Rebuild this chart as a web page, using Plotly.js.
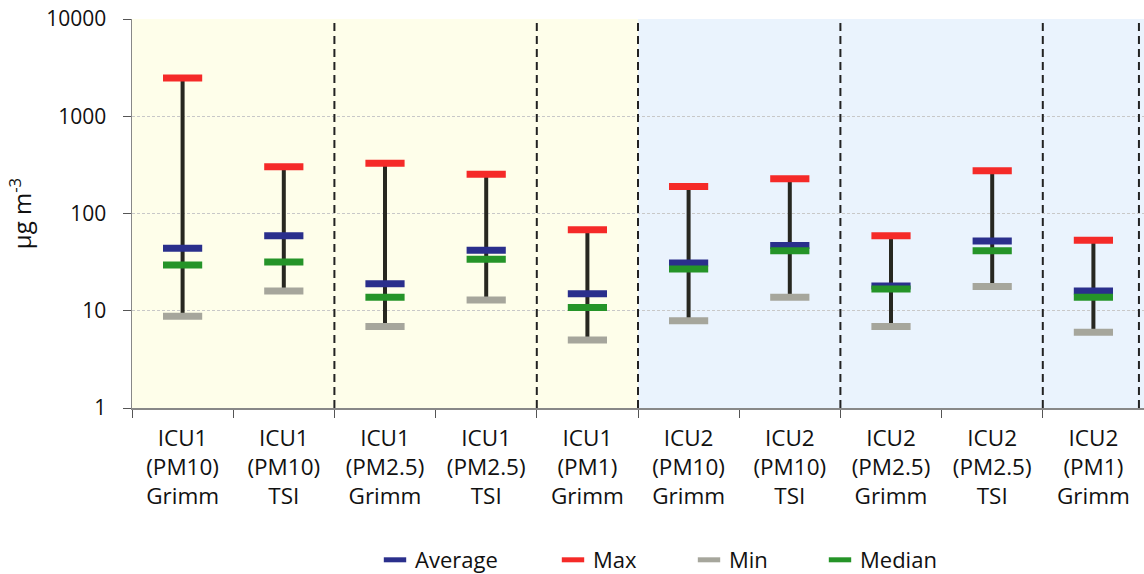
<!DOCTYPE html>
<html>
<head>
<meta charset="utf-8">
<script src="https://cdn.plot.ly/plotly-3.0.1.min.js"></script>
<style>html,body{margin:0;padding:0;background:#fff;}#chart{width:1144px;height:574px;}</style>
</head>
<body>
<div id="chart"></div>
<script>
const categories = [
  'ICU1<br>(PM10)<br>Grimm', 'ICU1<br>(PM10)<br>TSI', 'ICU1<br>(PM2.5)<br>Grimm', 'ICU1<br>(PM2.5)<br>TSI', 'ICU1<br>(PM1)<br>Grimm',
  'ICU2<br>(PM10)<br>Grimm', 'ICU2<br>(PM10)<br>TSI', 'ICU2<br>(PM2.5)<br>Grimm', 'ICU2<br>(PM2.5)<br>TSI', 'ICU2<br>(PM1)<br>Grimm'
];
const averageValues = [44, 59, 19, 42, 15, 31, 47, 18, 52, 16];
const maxValues     = [2470, 303, 328, 253, 68, 189, 228, 59, 275, 53];
const minValues     = [8.8, 16, 6.9, 12.9, 5, 7.9, 13.8, 6.9, 17.8, 6];
const medianValues  = [29.5, 31.7, 13.8, 33.8, 10.8, 26.9, 41.5, 16.7, 41.5, 13.8];
const yTickValues = [1, 10, 100, 1000, 10000];
const yTickLabels = ['1', '10', '100', '1000', '10000'];

const FONT = '"Open Sans", "DejaVu Sans", sans-serif';

// whisker lines from min to max
const wx = [], wy = [];
categories.forEach((c, i) => { wx.push(c, c, null); wy.push(minValues[i], maxValues[i], null); });

function markerTrace(name, vals, color, legendId) {
  return {
    type: 'scatter', mode: 'markers', name: name, x: categories, y: vals,
    legend: legendId, hoverinfo: 'name+y',
    marker: { symbol: 'line-ew', size: 28, color: color, line: { color: color, width: 7 } }
  };
}

const traces = [
  { type: 'scatter', mode: 'lines', x: wx, y: wy, showlegend: false, hoverinfo: 'skip',
    line: { color: '#272720', width: 4 } },
  markerTrace('Average', averageValues, '#2A2F8C', 'legend'),
  markerTrace('Max', maxValues, '#F52A28', 'legend2'),
  markerTrace('Min', minValues, '#A6A69C', 'legend3'),
  markerTrace('Median', medianValues, '#259428', 'legend4')
];

function vdash(x) {
  return { type: 'line', xref: 'x', yref: 'paper', x0: x, x1: x, y0: 0, y1: 1,
    line: { color: '#222222', width: 2, dash: '8px,5px' }, layer: 'above' };
}

function legendAt(px) {
  return { x: px / 1144, xref: 'container', xanchor: 'left', y: 1 - 560 / 574, yref: 'container', yanchor: 'middle',
    orientation: 'h', font: { family: FONT, size: 22, color: '#111' }, bgcolor: 'rgba(0,0,0,0)', borderwidth: 0 };
}

const layout = {
  width: 1144, height: 574,
  margin: { l: 132, r: 0, t: 19, b: 166 },
  paper_bgcolor: '#ffffff', plot_bgcolor: '#ffffff',
  font: { family: FONT, color: '#111' },
  showlegend: true,
  legend: legendAt(375),
  legend2: legendAt(553),
  legend3: legendAt(689),
  legend4: legendAt(820),
  xaxis: {
    type: 'category', range: [-0.5, 9.5], tickson: 'boundaries', ticks: 'outside', ticklen: 8,
    tickcolor: '#555', showline: true, linecolor: '#888', linewidth: 1.5, showgrid: false,
    ticklabelstandoff: 9,
    tickfont: { family: FONT, size: 22.5, color: '#111' }, fixedrange: true
  },
  yaxis: {
    type: 'log', range: [0, 4], tickvals: yTickValues, ticktext: yTickLabels,
    ticks: 'outside', ticklen: 8, tickcolor: '#555', showline: true, linecolor: '#888', linewidth: 1.5,
    showgrid: true, gridcolor: '#c8c8c8', griddash: '3px,2px', gridwidth: 1, zeroline: false,
    ticklabelstandoff: 12,
    tickfont: { family: FONT, size: 21, color: '#111' },
    title: { text: 'µg m<sup>-3</sup>', font: { family: FONT, size: 24, color: '#111' }, standoff: 8 }
  },
  shapes: [
    { type: 'rect', xref: 'x', yref: 'paper', x0: -0.5, x1: 4.5, y0: 0, y1: 1, fillcolor: '#FEFEEA', line: { width: 0 }, layer: 'below' },
    { type: 'rect', xref: 'x', yref: 'paper', x0: 4.5, x1: 9.5, y0: 0, y1: 1, fillcolor: '#EAF3FD', line: { width: 0 }, layer: 'below' },
    vdash(1.5), vdash(3.5), vdash(4.5), vdash(6.5), vdash(8.5), vdash(9.45)
  ]
};

Plotly.newPlot('chart', traces, layout, { displayModeBar: false, staticPlot: true });
</script>
</body>
</html>
